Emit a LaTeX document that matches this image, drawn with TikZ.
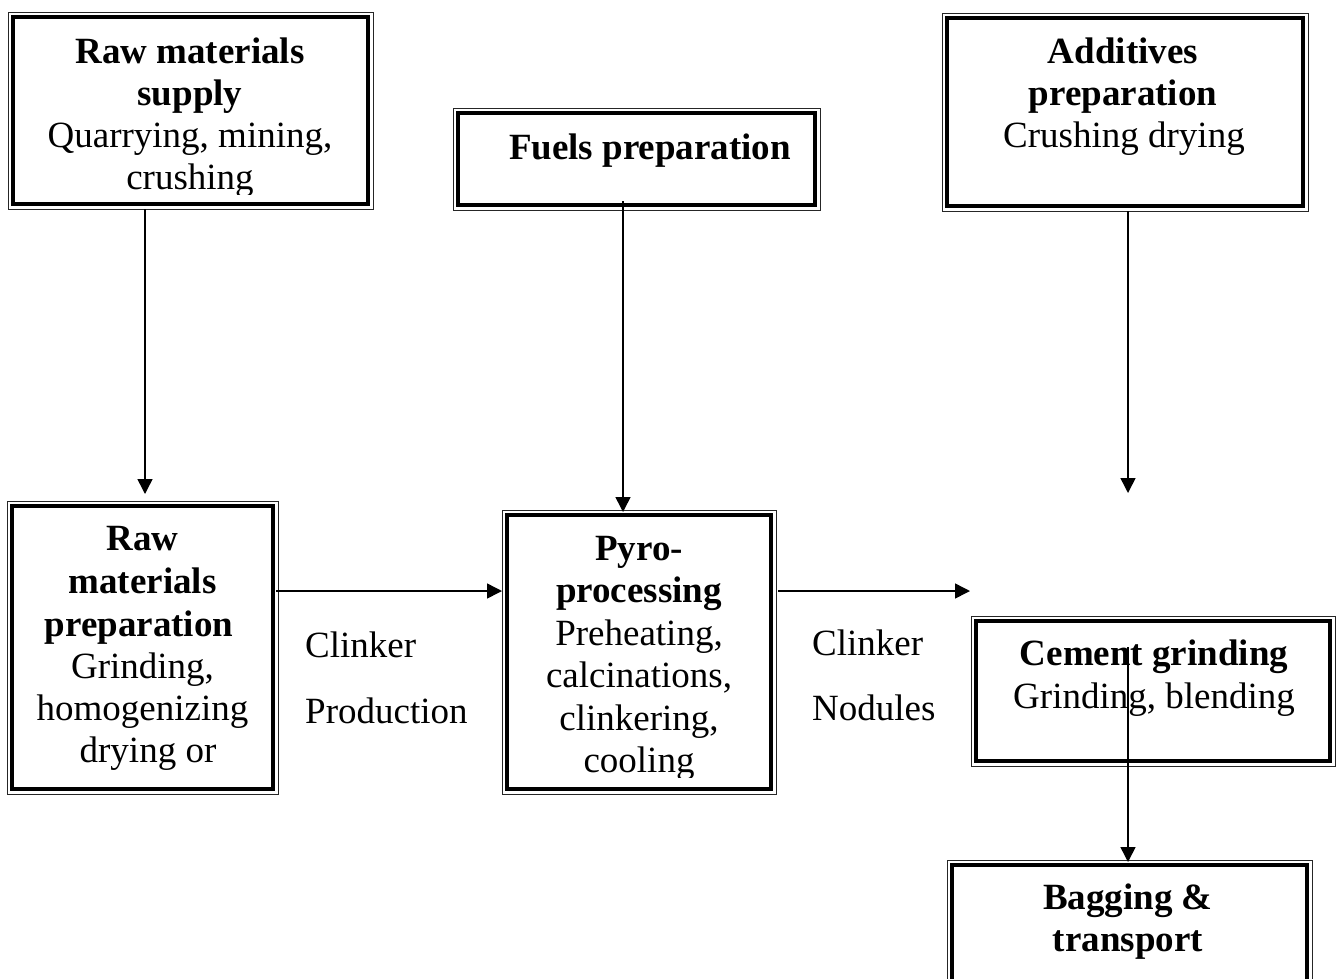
\documentclass[tikz,border=0pt]{standalone}
\usepackage{fontspec}
\setmainfont{Liberation Serif}
\usetikzlibrary{arrows.meta,fit}
\begin{document}
\begin{tikzpicture}[x=1pt,y=-1pt,
  box/.style={draw, line width=3.5pt, inner sep=0pt, outer sep=0pt},
  frame/.style={draw, line width=1pt, black!85},
  tx/.style={font=\fontsize{37}{42.5}\selectfont, inner sep=0pt, anchor=base},
  hd/.style={font=\fontsize{37}{42.5}\selectfont\bfseries, inner sep=0pt, anchor=base},
  lbl/.style={font=\fontsize{37}{42.5}\selectfont, inner sep=0pt, anchor=base west},
  arr/.style={line width=1.5pt, -{Triangle[length=15pt,width=15pt]}}]
\useasboundingbox (0,0) rectangle (1336,978);
\clip (0,0) rectangle (1336,978);

% boxes (inner thick frame)
\node[box, fit={(13,17) (368,204)}] (b1) {};
\node[box, fit={(458,113) (815,205)}] (b2) {};
\node[box, fit={(947,18) (1303,206)}] (b3) {};
\node[box, fit={(12,506) (273,789)}] (b4) {};
\node[box, fit={(507,515) (771,789)}] (b5) {};
\node[box, fit={(976,621) (1330,761)}] (b6) {};
\node[box, fit={(952,865) (1307,1005)}] (b7) {};
% outer thin frames
\foreach \n in {b1,b2,b3,b4,b5,b6,b7}
  \draw[frame] ([shift={(-5pt,-5pt)}]\n.south west) rectangle ([shift={(5pt,5pt)}]\n.north east);

% texts
\node[hd] (t1a) at (190,63) {Raw materials};
\node[hd] (t1b) at (190,105) {supply};
\node[tx] (t1c) at (190,147) {Quarrying, mining,};
\begin{scope}
  \clip (0,0) rectangle (1336,194);
  \node[tx] (t1d) at (190,189) {crushing};
\end{scope}

\node[hd] (t2a) at (650,159) {Fuels preparation};

\node[hd] (t3a) at (1123,63) {Additives};
\node[hd] (t3b) at (1123,105) {preparation};
\node[tx] (t3c) at (1124,147) {Crushing drying};

\node[hd] (t4a) at (142.5,550) {Raw};
\node[hd] (t4b) at (142.5,593) {materials};
\node[hd] (t4c) at (139,636) {preparation};
\node[tx] (t4d) at (142.5,678) {Grinding,};
\node[tx] (t4e) at (142.5,720) {homogenizing};
\node[tx] (t4f) at (148,762) {drying or};

\node[hd] (t5a) at (639,560) {Pyro-};
\node[hd] (t5b) at (639,602.5) {processing};
\node[tx] (t5c) at (639,645) {Preheating,};
\node[tx] (t5d) at (639,687.5) {calcinations,};
\node[tx] (t5e) at (639,730) {clinkering,};
\begin{scope}
  \clip (0,0) rectangle (1336,777);
  \node[tx] (t5f) at (639,772.5) {cooling};
\end{scope}

\node[hd] (t6a) at (1154,665) {Cement grinding};
\node[tx] (t6b) at (1154,708) {Grinding, blending};

\node[hd] (t7a) at (1128,909) {Bagging \&};
\node[hd] (t7b) at (1128,951) {transport};

\node[lbl] (l1) at (305,657) {Clinker};
\node[lbl] (l2) at (305,723) {Production};
\node[lbl] (l3) at (812,655) {Clinker};
\node[lbl] (l4) at (812,720) {Nodules};

% connector columns / rows
\coordinate (x1) at (145,0);
\coordinate (x2) at (623,0);
\coordinate (x3) at (1128,0);
\coordinate (y1) at (0,591);
\coordinate (e3) at (1128,493);
\coordinate (e5) at (970,591);

\draw[arr] ([yshift=-5pt]b1.south -| x1) -- ([yshift=12pt]b4.north -| x1);
\draw[arr] ([yshift=4pt]b2.south -| x2) -- ([yshift=3pt]b5.north -| x2);
\draw[arr] ([yshift=-5pt]b3.south -| x3) -- (e3);
\draw[arr] ([xshift=3pt]b4.east |- y1) -- ([xshift=-5pt]b5.west |- y1);
\draw[arr] ([xshift=7pt]b5.east |- y1) -- (e5);
\draw[arr] ([yshift=-26pt]b6.north -| x3) -- ([yshift=3pt]b7.north -| x3);
\end{tikzpicture}
\end{document}
